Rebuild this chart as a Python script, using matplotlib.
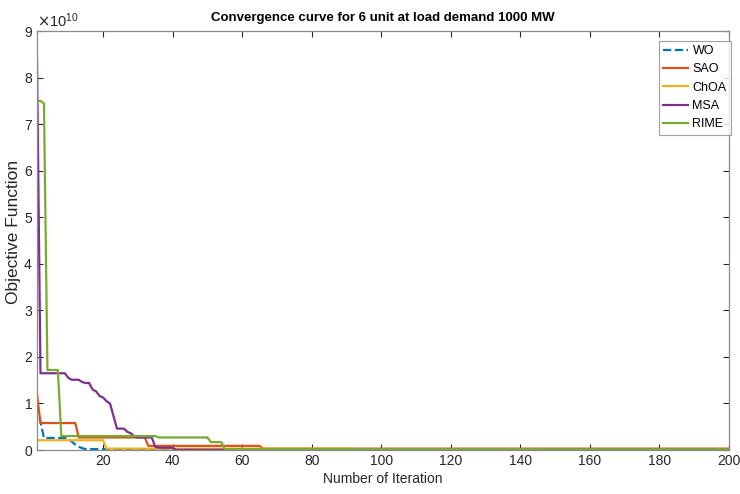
import numpy as np
import matplotlib.pyplot as plt
from matplotlib.ticker import ScalarFormatter

plt.rcParams['font.family'] = ['Liberation Sans', 'DejaVu Sans']

# values, in units of 1e10, as (level, number of iterations)
wo_lvl = [0.95, 0.6, 0.26, 0.25, 0.18, 0.12, 0.07, 0.04, 0.02, 0.005]
wo_cnt = [1, 1, 7, 1, 1, 1, 1, 1, 26, 160]

sao_lvl = [1.2, 0.58, 0.27, 0.09, 0.03]
sao_cnt = [1, 11, 20, 33, 135]

choa_lvl = [0.21, 0.03, 0.02, 0.01]
choa_cnt = [20, 72, 54, 54]

msa_lvl = [8.4, 1.65, 1.55, 1.51, 1.46, 1.44, 1.30, 1.26, 1.16, 1.13, 1.05, 1.0,
           0.73, 0.46, 0.39, 0.36, 0.29, 0.27, 0.07, 0.05, 0.005]
msa_cnt = [1, 8, 1, 3, 1, 2, 1, 1, 1, 1, 1, 1,
           1, 3, 1, 1, 1, 5, 1, 5, 160]

rime_lvl = [7.5, 7.45, 1.72, 0.30, 0.27, 0.17, 0.015]
rime_cnt = [2, 1, 4, 28, 15, 4, 146]

names = ['WO', 'SAO', 'ChOA', 'MSA', 'RIME']
colors = ['#0072BD', '#D95319', '#EDB120', '#7E2F8E', '#77AC30']
levels = [wo_lvl, sao_lvl, choa_lvl, msa_lvl, rime_lvl]
counts = [wo_cnt, sao_cnt, choa_cnt, msa_cnt, rime_cnt]

fig = plt.figure(figsize=(7.4, 4.94), dpi=100)
ax = fig.add_axes([0.05, 0.089, 0.935, 0.848])

for nm, col, lv, ct in zip(names, colors, levels, counts):
    y = np.repeat(lv, ct) * 1e10
    x = np.arange(1, len(y) + 1)
    ls = '--' if nm == 'WO' else '-'
    ax.plot(x, y, ls, color=col, lw=1.6, label=nm)

ax.set_xlim(1, 200)
ax.set_ylim(0, 9e10)
ax.set_xticks(np.arange(20, 201, 20))
ax.set_yticks(np.arange(0, 10, 1) * 1e10)

fmt = ScalarFormatter(useMathText=True)
fmt.set_powerlimits((0, 0))
ax.yaxis.set_major_formatter(fmt)
ax.yaxis.get_offset_text().set_fontsize(10.5)
ax.yaxis.get_offset_text().set_color('#262626')

ax.tick_params(direction='in', length=4, width=0.8, colors='#262626',
               labelsize=10, top=True, right=True, pad=3)
for s in ax.spines.values():
    s.set_color('#8a8a8a')
    s.set_linewidth(0.9)

ax.set_title('Convergence curve for 6 unit at load demand 1000 MW',
             fontsize=9.5, fontweight='bold', pad=7)
ax.set_xlabel('Number of Iteration', fontsize=10, color='#262626', labelpad=3)
ax.set_ylabel('Objective Function', fontsize=12.5, color='#262626')
ax.yaxis.set_label_coords(-0.023, 0.52)

leg = ax.legend(loc='upper right', bbox_to_anchor=(1.003, 0.977), fontsize=9,
                handlelength=2.0, handletextpad=0.35, borderaxespad=0.0,
                fancybox=False, labelspacing=0.5, borderpad=0.35)
leg.get_frame().set_edgecolor('#8a8a8a')
leg.get_frame().set_linewidth(0.8)

fig.savefig('out.png', dpi=100)
